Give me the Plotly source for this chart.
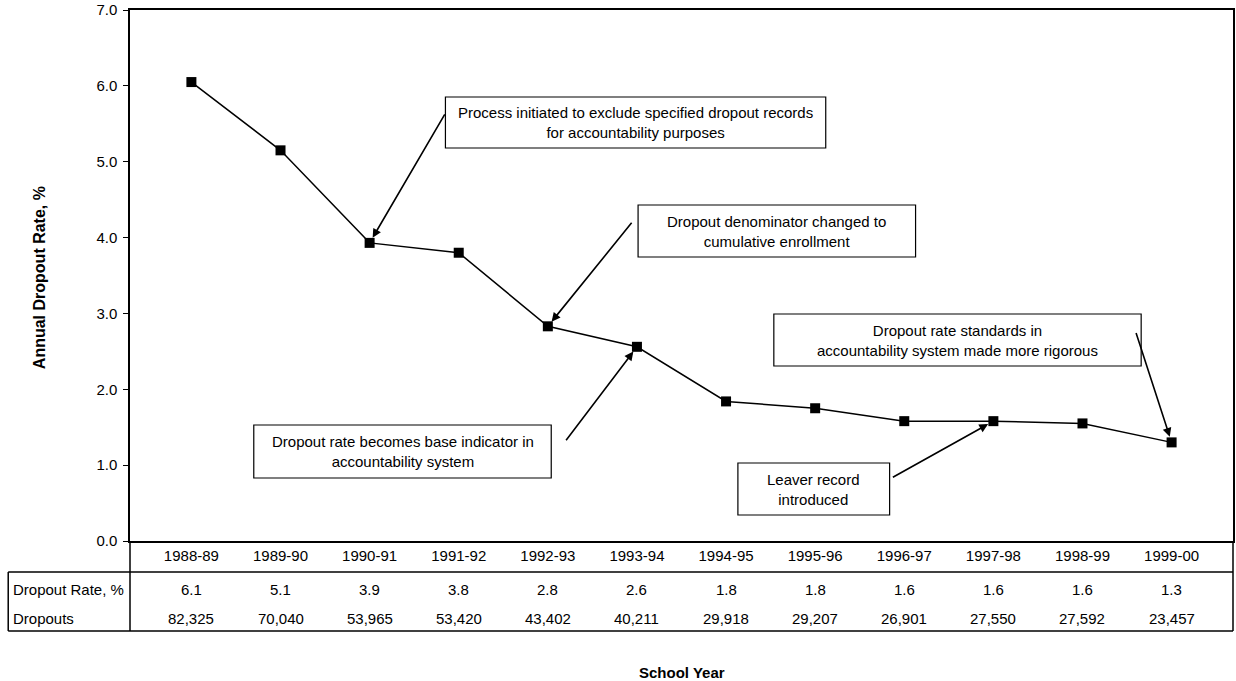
import plotly.graph_objects as go

# ---- data ----
years = ["1988-89", "1989-90", "1990-91", "1991-92", "1992-93", "1993-94",
         "1994-95", "1995-96", "1996-97", "1997-98", "1998-99", "1999-00"]
rate_plotted = [6.05, 5.15, 3.93, 3.80, 2.83, 2.56, 1.84, 1.75, 1.58, 1.58, 1.55, 1.30]
rate_table = ["6.1", "5.1", "3.9", "3.8", "2.8", "2.6", "1.8", "1.8", "1.6", "1.6", "1.6", "1.3"]
dropouts = ["82,325", "70,040", "53,965", "53,420", "43,402", "40,211",
            "29,918", "29,207", "26,901", "27,550", "27,592", "23,457"]
row_labels = ["Dropout Rate, %", "Dropouts"]
y_ticks = [0, 1, 2, 3, 4, 5, 6, 7]

# notes: (text, index of year pointed to, tail offset ax, ay, box left, top, right, bottom in px)
notes = [
    ("Process initiated to exclude specified dropout records<br>for accountability purposes", 2, 76, -130, (446, 97, 827, 148)),
    ("Dropout denominator changed to<br>cumulative enrollment", 4, 85, -105, (639, 205, 917, 257)),
    ("Dropout rate standards in<br>accountability system made more rigorous", 11, -36, -111, (775, 314, 1143, 366)),
    ("Dropout rate becomes base indicator in<br>accountability system", 5, -72, 95, (254, 425, 552, 478)),
    ("Leaver record<br>introduced", 9, -102, 57, (739, 463, 891, 515)),
]

W, H = 1236, 681
L, R, T, B = 130, 1, 10, 140
PW, PH = W - L - R, H - T - B
FONT = "Liberation Sans, Arial, sans-serif"
FS = 15


def fx(px):
    return (px - L) / PW


def fy(py):
    return (H - B - py) / PH


fig = go.Figure()
fig.add_trace(go.Scatter(
    x=years, y=rate_plotted, mode="lines+markers",
    line=dict(color="black", width=1.5),
    marker=dict(symbol="square", size=10, color="black"),
    showlegend=False, hoverinfo="x+y",
))

shapes = []
line = dict(color="black", width=1.5)
# table lines
shapes.append(dict(type="line", xref="paper", yref="paper", x0=fx(8), x1=1, y0=fy(572), y1=fy(572), line=line))
shapes.append(dict(type="line", xref="paper", yref="paper", x0=fx(8), x1=1, y0=fy(631), y1=fy(631), line=line))
shapes.append(dict(type="line", xref="paper", yref="paper", x0=fx(8), x1=fx(8), y0=fy(572), y1=fy(631), line=line))
shapes.append(dict(type="line", xref="paper", yref="paper", x0=0, x1=0, y0=0, y1=fy(631), line=line))
shapes.append(dict(type="line", xref="paper", yref="paper", x0=1, x1=1, y0=0, y1=fy(631), line=line))

annotations = []
for text, idx, ax, ay, (bl, bt, br, bb) in notes:
    shapes.append(dict(type="rect", xref="paper", yref="paper",
                       x0=fx(bl), x1=fx(br), y0=fy(bb), y1=fy(bt),
                       line=dict(color="black", width=1.2), fillcolor="white", layer="above"))
    annotations.append(dict(xref="paper", yref="paper", x=fx((bl + br) / 2), y=fy((bt + bb) / 2),
                            xanchor="center", yanchor="middle",
                            text=text, showarrow=False, align="center",
                            font=dict(size=FS, color="black", family=FONT)))
    annotations.append(dict(xref="x", yref="y", x=years[idx], y=rate_plotted[idx],
                            ax=ax, ay=ay, text="", showarrow=True, arrowhead=2,
                            arrowsize=1.1, arrowwidth=1.6, arrowcolor="black", standoff=6))

# table text
for i, yr in enumerate(years):
    annotations.append(dict(xref="x", yref="paper", x=yr, y=fy(589), text=rate_table[i],
                            xanchor="center", yanchor="middle",
                            showarrow=False, font=dict(size=FS, color="black", family=FONT)))
    annotations.append(dict(xref="x", yref="paper", x=yr, y=fy(618), text=dropouts[i],
                            xanchor="center", yanchor="middle",
                            showarrow=False, font=dict(size=FS, color="black", family=FONT)))
for lab, py in zip(row_labels, [589, 618]):
    annotations.append(dict(xref="paper", yref="paper", x=fx(11), y=fy(py), text=lab,
                            xanchor="left", yanchor="middle", showarrow=False,
                            font=dict(size=FS, color="black", family=FONT)))

# axis titles
annotations.append(dict(xref="paper", yref="paper", x=fx(40), y=fy(278), text="<b>Annual Dropout Rate, %</b>",
                        xanchor="center", yanchor="middle",
                        textangle=-90, showarrow=False, font=dict(size=16, color="black", family=FONT)))
annotations.append(dict(xref="paper", yref="paper", x=fx(683), y=fy(672), text="<b>School Year</b>",
                        xanchor="center", yanchor="middle",
                        showarrow=False, font=dict(size=15, color="black", family=FONT)))

fig.update_layout(
    width=W, height=H,
    margin=dict(l=L, r=R, t=T, b=B),
    paper_bgcolor="white", plot_bgcolor="white",
    font=dict(family=FONT, size=FS, color="black"),
    shapes=shapes, annotations=annotations,
    xaxis=dict(type="category", showgrid=False, showline=True, linecolor="black", linewidth=1.5,
               mirror=True, ticks="", tickfont=dict(size=FS), zeroline=False),
    yaxis=dict(range=[0, 7], tickvals=y_ticks, tickformat=".1f", showgrid=False, showline=True,
               linecolor="black", linewidth=1.5, mirror=True, ticks="outside", ticklen=5,
               tickcolor="black", tickfont=dict(size=FS), zeroline=False, ticklabelstandoff=3),
)

fig.write_html("out.html", config={"displayModeBar": False},
               post_script="document.body.style.margin='0';document.body.style.overflow='hidden';")
